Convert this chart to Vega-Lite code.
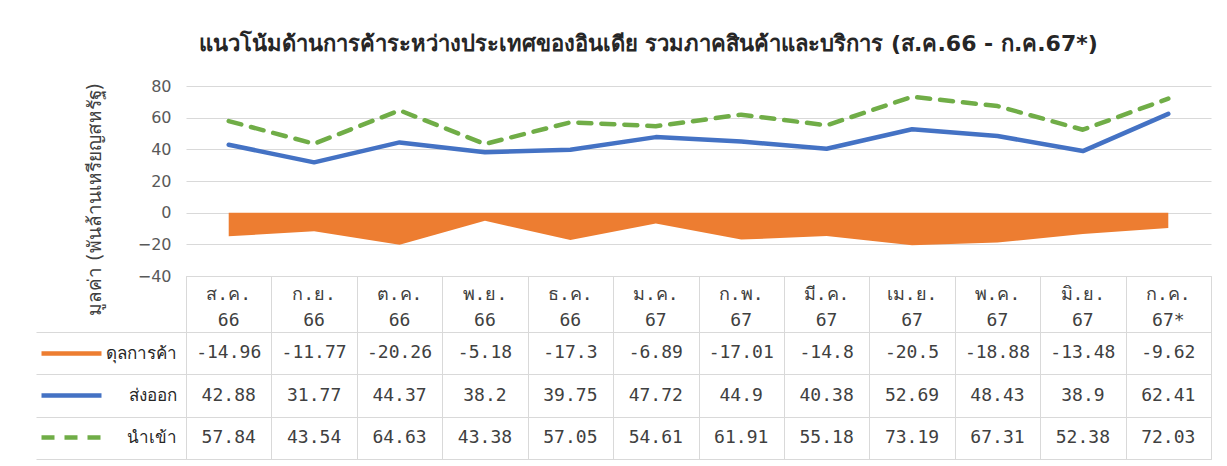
{
  "$schema": "https://vega.github.io/schema/vega-lite/v6.json",
  "padding": {"left": 35, "top": 33, "right": 10, "bottom": 0},
  "background": "white",
  "bounds": "flush",
  "title": {
    "text": "แนวโน้มด้านการค้าระหว่างประเทศของอินเดีย รวมภาคสินค้าและบริการ (ส.ค.66 - ก.ค.67*)",
    "fontSize": 22,
    "fontWeight": "bold",
    "color": "#262626",
    "anchor": "middle",
    "dx": 25,
    "offset": 22
  },
  "config": {
    "font": "DejaVu Sans",
    "view": {"stroke": null},
    "axis": {"labelColor": "#595959", "gridColor": "#d9d9d9", "domain": false, "ticks": false}
  },
  "datasets": {
    "d": [
      {"m": "ส.ค. 66", "s": "ดุลการค้า", "v": -14.96},
      {"m": "ก.ย. 66", "s": "ดุลการค้า", "v": -11.77},
      {"m": "ต.ค. 66", "s": "ดุลการค้า", "v": -20.26},
      {"m": "พ.ย. 66", "s": "ดุลการค้า", "v": -5.18},
      {"m": "ธ.ค. 66", "s": "ดุลการค้า", "v": -17.3},
      {"m": "ม.ค. 67", "s": "ดุลการค้า", "v": -6.89},
      {"m": "ก.พ. 67", "s": "ดุลการค้า", "v": -17.01},
      {"m": "มี.ค. 67", "s": "ดุลการค้า", "v": -14.8},
      {"m": "เม.ย. 67", "s": "ดุลการค้า", "v": -20.5},
      {"m": "พ.ค. 67", "s": "ดุลการค้า", "v": -18.88},
      {"m": "มิ.ย. 67", "s": "ดุลการค้า", "v": -13.48},
      {"m": "ก.ค. 67*", "s": "ดุลการค้า", "v": -9.62},
      {"m": "ส.ค. 66", "s": "ส่งออก", "v": 42.88},
      {"m": "ก.ย. 66", "s": "ส่งออก", "v": 31.77},
      {"m": "ต.ค. 66", "s": "ส่งออก", "v": 44.37},
      {"m": "พ.ย. 66", "s": "ส่งออก", "v": 38.2},
      {"m": "ธ.ค. 66", "s": "ส่งออก", "v": 39.75},
      {"m": "ม.ค. 67", "s": "ส่งออก", "v": 47.72},
      {"m": "ก.พ. 67", "s": "ส่งออก", "v": 44.9},
      {"m": "มี.ค. 67", "s": "ส่งออก", "v": 40.38},
      {"m": "เม.ย. 67", "s": "ส่งออก", "v": 52.69},
      {"m": "พ.ค. 67", "s": "ส่งออก", "v": 48.43},
      {"m": "มิ.ย. 67", "s": "ส่งออก", "v": 38.9},
      {"m": "ก.ค. 67*", "s": "ส่งออก", "v": 62.41},
      {"m": "ส.ค. 66", "s": "นำเข้า", "v": 57.84},
      {"m": "ก.ย. 66", "s": "นำเข้า", "v": 43.54},
      {"m": "ต.ค. 66", "s": "นำเข้า", "v": 64.63},
      {"m": "พ.ย. 66", "s": "นำเข้า", "v": 43.38},
      {"m": "ธ.ค. 66", "s": "นำเข้า", "v": 57.05},
      {"m": "ม.ค. 67", "s": "นำเข้า", "v": 54.61},
      {"m": "ก.พ. 67", "s": "นำเข้า", "v": 61.91},
      {"m": "มี.ค. 67", "s": "นำเข้า", "v": 55.18},
      {"m": "เม.ย. 67", "s": "นำเข้า", "v": 73.19},
      {"m": "พ.ค. 67", "s": "นำเข้า", "v": 67.31},
      {"m": "มิ.ย. 67", "s": "นำเข้า", "v": 52.38},
      {"m": "ก.ค. 67*", "s": "นำเข้า", "v": 72.03}
    ]
  },
  "spacing": 0,
  "resolve": {
    "scale": {"x": "independent", "color": "independent", "strokeDash": "independent"},
    "legend": {"color": "independent", "strokeDash": "independent"}
  },
  "vconcat": [
    {
      "width": 1025,
      "height": 190,
      "data": {"name": "d"},
      "encoding": {
        "x": {
          "field": "m", "type": "nominal", "axis": null,
          "scale": {"type": "point", "padding": 0.5, "domain": ["ส.ค. 66", "ก.ย. 66", "ต.ค. 66", "พ.ย. 66", "ธ.ค. 66", "ม.ค. 67", "ก.พ. 67", "มี.ค. 67", "เม.ย. 67", "พ.ค. 67", "มิ.ย. 67", "ก.ค. 67*"]}
        },
        "y": {
          "field": "v", "type": "quantitative",
          "scale": {"domain": [-40, 80], "nice": false, "zero": true},
          "axis": {
            "values": [-40, -20, 0, 20, 40, 60, 80],
            "title": "มูลค่า (พันล้านเหรียญสหรัฐ)",
            "titleFontSize": 19, "titleFontWeight": "normal", "titleColor": "#404040",
            "titleX": -82, "titleY": 113,
            "labelFontSize": 16, "labelPadding": 15,
            "grid": true, "gridColor": "#d9d9d9"
          }
        }
      },
      "layer": [
        {"transform": [{"filter": "datum.s === 'ดุลการค้า'"}], "mark": {"type": "area", "color": "#ED7D31", "opacity": 1}},
        {"transform": [{"filter": "datum.s === 'ส่งออก'"}], "mark": {"type": "line", "color": "#4472C4", "strokeWidth": 4.5, "strokeCap": "round", "strokeJoin": "round"}},
        {"transform": [{"filter": "datum.s === 'นำเข้า'"}], "mark": {"type": "line", "color": "#70AD47", "strokeWidth": 4.5, "strokeDash": [13, 10], "strokeCap": "round", "strokeJoin": "round"}}
      ]
    },
    {
      "width": 1025,
      "height": 56,
      "view": {"stroke": "#d9d9d9"},
      "data": {"name": "d"},
      "transform": [{"filter": "datum.s === 'ดุลการค้า'"}],
      "mark": {"type": "text", "lineBreak": " ", "lineHeight": 26, "fontSize": 18, "font": "DejaVu Sans Mono", "color": "#404040", "baseline": "middle", "dy": -9},
      "encoding": {
        "x": {
          "field": "m", "type": "nominal",
          "scale": {"domain": ["ส.ค. 66", "ก.ย. 66", "ต.ค. 66", "พ.ย. 66", "ธ.ค. 66", "ม.ค. 67", "ก.พ. 67", "มี.ค. 67", "เม.ย. 67", "พ.ค. 67", "มิ.ย. 67", "ก.ค. 67*"]},
          "axis": {"grid": true, "tickBand": "extent", "labels": false, "ticks": false, "domain": false, "title": null, "gridColor": "#d9d9d9"}
        },
        "text": {"field": "m", "type": "nominal"}
      }
    },
    {
      "width": 1025,
      "height": 127,
      "view": {"stroke": "#d9d9d9"},
      "data": {"name": "d"},
      "encoding": {
        "x": {
          "field": "m", "type": "nominal",
          "scale": {"domain": ["ส.ค. 66", "ก.ย. 66", "ต.ค. 66", "พ.ย. 66", "ธ.ค. 66", "ม.ค. 67", "ก.พ. 67", "มี.ค. 67", "เม.ย. 67", "พ.ค. 67", "มิ.ย. 67", "ก.ค. 67*"]},
          "axis": {"grid": true, "tickBand": "extent", "labels": false, "ticks": false, "domain": false, "title": null, "gridColor": "#d9d9d9"}
        },
        "y": {
          "field": "s", "type": "nominal",
          "scale": {"domain": ["ดุลการค้า", "ส่งออก", "นำเข้า"]},
          "axis": {
            "grid": true, "tickBand": "extent", "ticks": true, "tickSize": 150, "tickColor": "#d9d9d9",
            "domain": false, "title": null, "gridColor": "#d9d9d9",
            "labelFontSize": 17, "labelColor": "#262626", "labelPadding": -140, "labelAlign": "right"
          }
        }
      },
      "layer": [
        {
          "mark": {"type": "text", "fontSize": 18, "font": "DejaVu Sans Mono", "color": "#404040"},
          "encoding": {"text": {"field": "v", "type": "nominal"}}
        },
        {
          "mark": {"type": "point", "opacity": 0},
          "encoding": {
            "strokeDash": {
              "field": "s", "type": "nominal",
              "scale": {"domain": ["ดุลการค้า", "ส่งออก", "นำเข้า"], "range": [[1, 0], [1, 0], [13, 10]]},
              "legend": {
                "orient": "none", "legendX": -147, "legendY": -11, "direction": "vertical",
                "title": null, "symbolType": "stroke", "symbolSize": 3600, "symbolStrokeWidth": 4.5,
                "symbolOpacity": 1, "labelExpr": "''", "rowPadding": -27
              }
            },
            "color": {
              "field": "s", "type": "nominal",
              "scale": {"domain": ["ดุลการค้า", "ส่งออก", "นำเข้า"], "range": ["#ED7D31", "#4472C4", "#70AD47"]},
              "legend": {
                "orient": "none", "legendX": -147, "legendY": -11, "direction": "vertical",
                "title": null, "symbolType": "stroke", "symbolSize": 3600, "symbolStrokeWidth": 4.5,
                "symbolOpacity": 1, "labelExpr": "''", "rowPadding": -27,
                "encoding": {
                  "symbols": {
                    "update": {
                      "strokeWidth": {"signal": "datum.value === 'ดุลการค้า' ? 8 : 5"},
                      "strokeCap": {"signal": "datum.value === 'ดุลการค้า' ? 'butt' : 'round'"},
                      "opacity": {"value": 1}
                    }
                  }
                }
              }
            }
          }
        }
      ]
    }
  ]
}
